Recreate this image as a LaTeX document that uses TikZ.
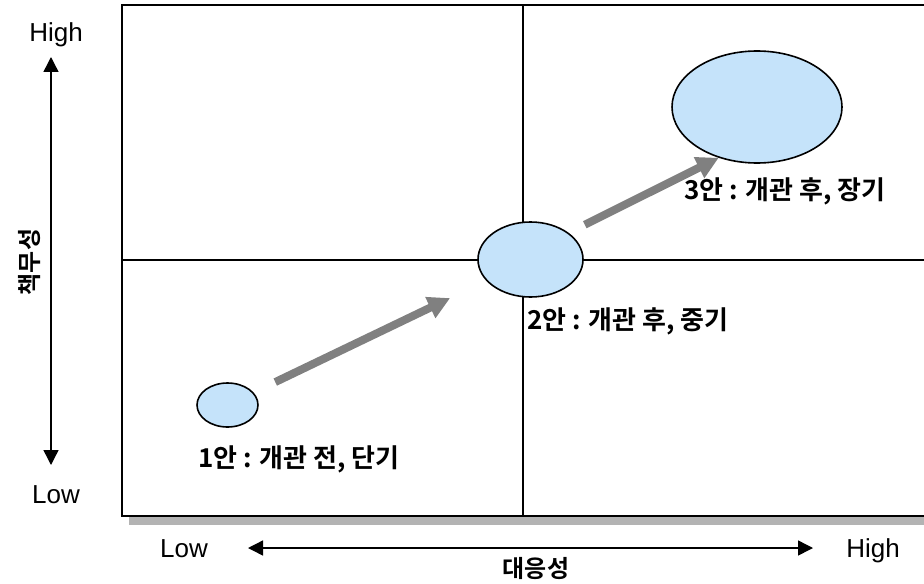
\documentclass[tikz,border=0pt]{standalone}
\usepackage{fontspec}
\setmainfont{Liberation Sans}
\newfontfamily\kofont{Noto Sans CJK KR}[BoldFont={Noto Sans CJK KR Bold}]
\usetikzlibrary{arrows.meta,shapes.geometric}
\definecolor{planfill}{RGB}{197,227,250}
\definecolor{flowgray}{RGB}{128,128,128}
\definecolor{shadowgray}{RGB}{179,179,179}

\begin{document}
\begin{tikzpicture}[x=0.5pt, y=-0.5pt,
        plan/.style={ellipse, draw, line width=0.8pt, fill=planfill, inner sep=0pt},
        tag/.style={anchor=west, inner sep=0pt, font=\kofont\bfseries\fontsize{13}{15}\selectfont},
        axistitle/.style={inner sep=0pt, font=\kofont\bfseries\fontsize{12}{14}\selectfont},
        level/.style={anchor=base, inner sep=0pt, font=\fontsize{13}{15}\selectfont},
        axis/.style={{Triangle[length=7.5pt,width=7.5pt]}-{Triangle[length=7.5pt,width=7.5pt]}, line width=0.7pt},
        flow/.style={-{Triangle[length=11pt,width=11pt]}, line width=4pt, flowgray}
    ]
    \useasboundingbox (0,0) rectangle (924,583);
    \clip (0,0) rectangle (924,583);

    % quadrant frame
    \fill[shadowgray] (129,516) rectangle (930,525);
    \draw[line width=1.2pt] (122,5) rectangle (940,516);
    \draw[line width=0.8pt] (523,5) -- (523,516);
    \draw[line width=0.8pt] (122,260) -- (940,260);

    % plans
    \node[plan, minimum width=30.5pt, minimum height=22pt] (plan1) at (227.5,405) {};
    \node[plan, minimum width=52.5pt, minimum height=37.5pt] (plan2) at (530.5,259.5) {};
    \node[plan, minimum width=85pt, minimum height=56pt] (plan3) at (757,107) {};

    \node[tag] (tag1) at (198,459) {1안 : 개관 전, 단기};
    \node[tag] (tag2) at (527,321) {2안 : 개관 후, 중기};
    \node[tag] (tag3) at (684,191) {3안 : 개관 후, 장기};

    \draw[flow, shorten <=12pt, shorten >=20pt] (plan1) -- (plan2);
    \draw[flow, shorten <=9pt] (plan2.35) -- (plan3.233);

    % vertical axis
    \node[level] (yhigh) at (56,42) {High};
    \node[level] (ylow) at (56,503) {Low};
    \node[axistitle, rotate=90] (ytitle) at (30,262) {책무성};
    \coordinate (ytop) at (51,57);
    \coordinate (ybot) at (51,465);
    \draw[axis] (ybot) -- (ytop);

    % horizontal axis
    \node[level] (xlow) at (184,557) {Low};
    \node[level] (xhigh) at (873,557) {High};
    \node[axistitle] (xtitle) at (536,569) {대응성};
    \coordinate (xleft) at (248,548);
    \coordinate (xright) at (813,548);
    \draw[axis] (xleft) -- (xright);
\end{tikzpicture}
\end{document}
